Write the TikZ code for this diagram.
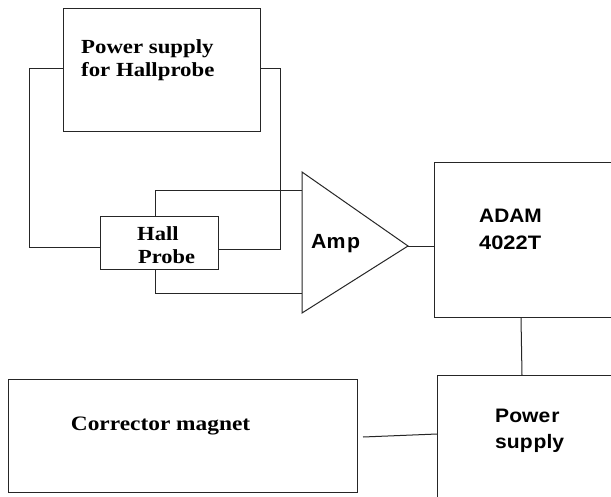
\documentclass[tikz,border=0pt]{standalone}
\usepackage{fontspec}
\usepackage{graphicx}
\setmainfont{Liberation Serif}
\setsansfont{Liberation Sans}
\newcommand{\sxs}[2]{\scalebox{#1}[1]{#2}}
\begin{document}
\begin{tikzpicture}[x=1pt,y=-1pt,
  box/.style={draw=black!85, line width=1pt, rectangle, inner sep=0pt, anchor=north west},
  wire/.style={draw=black!85, line width=1pt},
  serlbl/.style={anchor=base west, inner sep=0pt, text=black, font=\fontsize{20}{24}\selectfont\rmfamily\bfseries},
  sanslbl/.style={anchor=base west, inner sep=0pt, text=black, font=\fontsize{19.5}{24}\selectfont\sffamily\bfseries}]
\clip (0,0) rectangle (611,496);
\fill[white] (0,0) rectangle (611,496);
% boxes
\node[box, minimum width=197pt, minimum height=123pt] (psh) at (63,8) {};
\node[box, minimum width=118pt, minimum height=53pt] (hall) at (100,216) {};
\node[box, minimum width=190pt, minimum height=155pt] (adam) at (434,162) {};
\node[box, minimum width=190pt, minimum height=140pt] (ps) at (437,375) {};
\node[box, minimum width=349pt, minimum height=113pt] (cm) at (8,379) {};
% amplifier
\coordinate (ampTop) at (302,172);
\coordinate (ampBot) at (302,313);
\coordinate (ampTip) at (408,246);
\draw[wire, line join=miter] (ampTop) -- (ampTip) -- (ampBot) -- cycle;
% labels
\node[serlbl] (t1) at (81,53.5) {\sxs{1.14}{Power supply}};
\node[serlbl] (t2) at (81,76.3) {\sxs{1.14}{for Hallprobe}};
\node[serlbl] (t3) at (137,240.7) {\sxs{1.13}{Hall}};
\node[serlbl] (t4) at (138,263.4) {\sxs{1.12}{Probe}};
\node[serlbl, font=\fontsize{20.5}{24}\selectfont\rmfamily\bfseries] (t5) at (70.7,430) {\sxs{1.14}{Corrector magnet}};
\node[sanslbl, font=\fontsize{20.5}{24}\selectfont\sffamily\bfseries] (t6) at (311,248) {\sxs{1.04}{Am\kern1.5pt p}};
\node[sanslbl] (t7) at (479,222.7) {\sxs{1.07}{ADAM}};
\node[sanslbl] (t8) at (479,249.3) {\sxs{1.12}{4022T}};
\node[sanslbl] (t9) at (495,422.5) {\sxs{1.08}{Powe\kern1.2pt r}};
\node[sanslbl] (t10) at (495,448) {\sxs{1.08}{sup\kern1pt ply}};
% wire helper coordinates
\coordinate (y68) at (0,68);
\coordinate (y247) at (0,247);
\coordinate (y249) at (0,249);
\coordinate (x155) at (155,0);
\coordinate (y190) at (0,190);
\coordinate (y293) at (0,293);
\coordinate (y246) at (0,246);
\coordinate (x521) at (521,0);
\coordinate (x522) at (522,0);
\coordinate (cmEnd) at (363,437);
\coordinate (y434) at (0,434);
% wires
\draw[wire] (psh.west |- y68) -- (29,68) -- (29,247) -- (hall.west |- y247);
\draw[wire] (psh.east |- y68) -- (280,68) -- (280,249) -- (hall.east |- y249);
\draw[wire] (hall.north -| x155) -- (155,190) -- (ampTop |- y190);
\draw[wire] (hall.south -| x155) -- (155,293) -- (ampBot |- y293);
\draw[wire] (ampTip) -- (adam.west |- y246);
\draw[wire] (adam.south -| x521) -- (ps.north -| x522);
\draw[wire] (cmEnd) -- (ps.west |- y434);
\end{tikzpicture}
\end{document}
